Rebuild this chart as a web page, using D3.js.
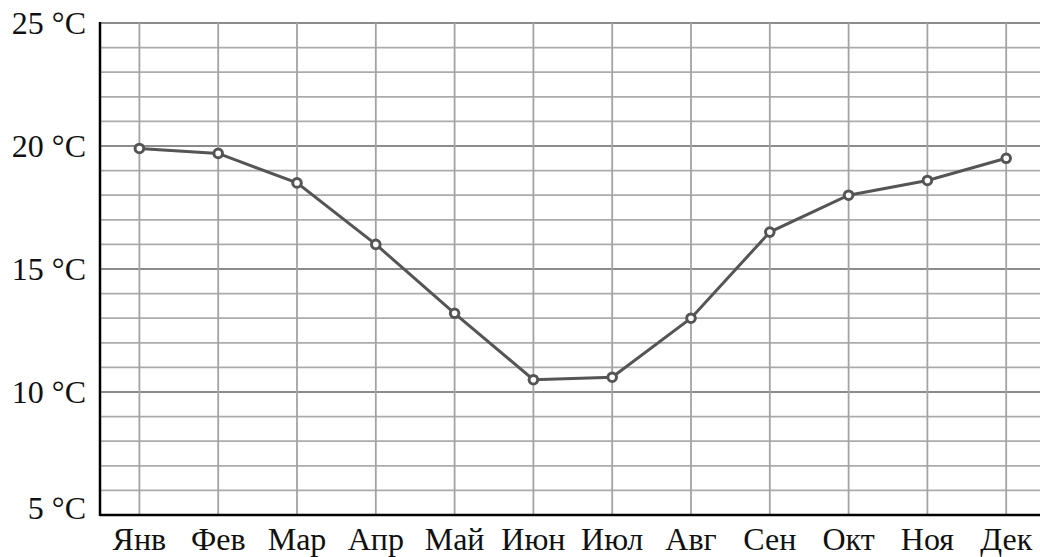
<!DOCTYPE html>
<html><head><meta charset="utf-8">
<script src="https://cdn.jsdelivr.net/npm/d3@7"></script>
<style>body{margin:0;background:#fff}svg{display:block}</style>
</head><body>
<script>
const months = ["Янв","Фев","Мар","Апр","Май","Июн","Июл","Авг","Сен","Окт","Ноя","Дек"];
const temps = [19.9, 19.7, 18.5, 16.0, 13.2, 10.5, 10.6, 13.0, 16.5, 18.0, 18.6, 19.5];
const yTicks = [5, 10, 15, 20, 25];
const yLabels = ["5 °C","10 °C","15 °C","20 °C","25 °C"];

const W = 1040, H = 557;
const svg = d3.select("body").append("svg").attr("width", W).attr("height", H);
const padL = 100, padT = 23, padB = 515;
const x = d3.scaleBand().domain(months).range([padL, padL + 12*78.8]).padding(0);
const y = d3.scaleLinear().domain([5, 25]).range([padB, padT]);
const font = "'Liberation Serif','Times New Roman',serif";
const cx = m => x(m) + x.bandwidth()/2;

// horizontal grid
svg.append("g").selectAll("line").data(d3.range(6, 26)).join("line")
  .attr("x1", padL).attr("x2", W).attr("y1", d => y(d)).attr("y2", d => y(d))
  .attr("stroke", d => d % 5 === 0 ? "#8c8c8c" : "#ababab")
  .attr("stroke-width", d => d % 5 === 0 ? 2.2 : 1.8);
// vertical grid
svg.append("g").selectAll("line").data(months).join("line")
  .attr("x1", d => cx(d)).attr("x2", d => cx(d))
  .attr("y1", padT).attr("y2", padB)
  .attr("stroke", "#a3a3a3").attr("stroke-width", 1.8);

// axes lines
svg.append("line").attr("x1", padL).attr("x2", padL).attr("y1", padT-1).attr("y2", padB+1)
  .attr("stroke", "#000").attr("stroke-width", 2.5);
svg.append("line").attr("x1", padL).attr("x2", W).attr("y1", padB).attr("y2", padB)
  .attr("stroke", "#000").attr("stroke-width", 2.5);

// y labels
svg.append("g").selectAll("text").data(yTicks).join("text")
  .attr("x", 86).attr("y", (d) => y(d) + (d === 5 ? -7 : 0))
  .attr("dy", "0.35em").attr("text-anchor", "end")
  .attr("font-family", font).attr("font-size", 32).attr("fill", "#111")
  .text((d, i) => yLabels[i]);

// x labels
svg.append("g").selectAll("text").data(months).join("text")
  .attr("x", d => cx(d)).attr("y", 550)
  .attr("text-anchor", "middle")
  .attr("font-family", font).attr("font-size", 32).attr("fill", "#111")
  .text(d => d);

// line
const line = d3.line().x((d, i) => cx(months[i])).y(d => y(d));
svg.append("path").datum(temps).attr("d", line)
  .attr("fill", "none").attr("stroke", "#555").attr("stroke-width", 3);
svg.append("g").selectAll("circle").data(temps).join("circle")
  .attr("cx", (d, i) => cx(months[i])).attr("cy", d => y(d))
  .attr("r", 4.3).attr("fill", "#fff").attr("stroke", "#555").attr("stroke-width", 3);
</script>
</body></html>
